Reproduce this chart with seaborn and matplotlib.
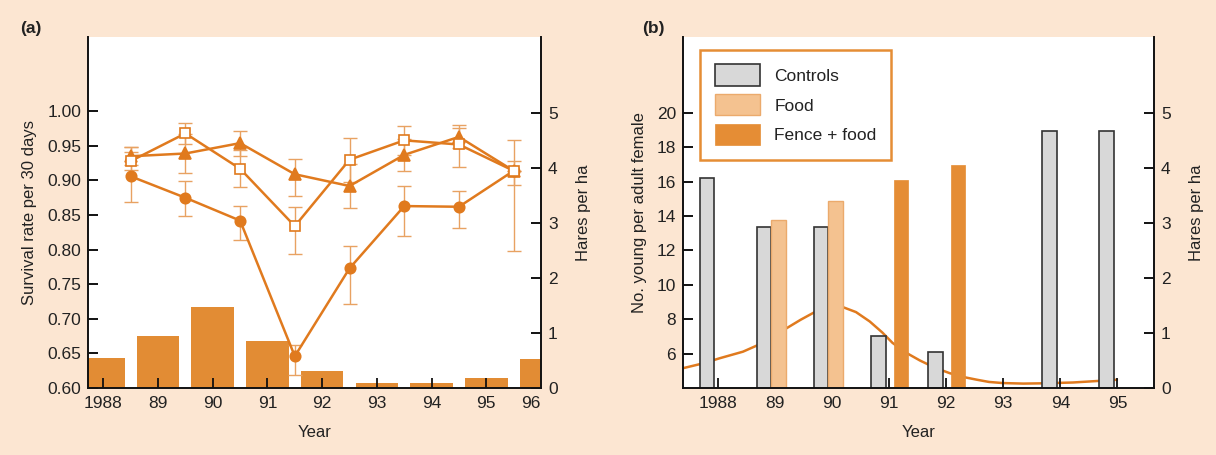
import numpy as np
import pandas as pd
import matplotlib
matplotlib.use("Agg")
import matplotlib.pyplot as plt
import seaborn as sns
from matplotlib.patches import Patch

# ---------------- data: panel (a) ----------------
years_a = [1988, 1989, 1990, 1991, 1992, 1993, 1994, 1995, 1996]
year_labels_a = ["1988", "89", "90", "91", "92", "93", "94", "95", "96"]
density_a = [0.55, 0.95, 1.47, 0.85, 0.30, 0.085, 0.085, 0.19, 0.53]   # hares per ha

# survival rates per 30 days, one value per year-to-year period (1988-89 ... 1995-96)
surv_circle = [0.906, 0.875, 0.842, 0.646, 0.773, 0.863, 0.862, 0.914]
circle_lo = [0.869, 0.848, 0.814, 0.619, 0.721, 0.820, 0.832, 0.798]
circle_hi = [0.949, 0.899, 0.863, 0.662, 0.805, 0.892, 0.885, 0.958]

surv_triangle = [0.935, 0.939, 0.954, 0.909, 0.892, 0.937, 0.963, 0.914]
tri_lo = [0.922, 0.911, 0.936, 0.877, 0.860, 0.914, 0.947, 0.914]
tri_hi = [0.948, 0.967, 0.972, 0.931, 0.924, 0.960, 0.980, 0.914]

surv_square = [0.928, 0.968, 0.917, 0.834, 0.930, 0.958, 0.952, 0.914]
sq_lo = [0.915, 0.953, 0.890, 0.794, 0.898, 0.937, 0.919, 0.894]
sq_hi = [0.941, 0.983, 0.944, 0.861, 0.962, 0.979, 0.976, 0.928]

# ---------------- data: panel (b) ----------------
years_b = [1988, 1989, 1990, 1991, 1992, 1993, 1994, 1995]
year_labels_b = ["1988", "89", "90", "91", "92", "93", "94", "95"]
controls = [16.22, 13.35, 13.35, 7.0, 6.09, np.nan, 18.91, 18.91]
food = [np.nan, 13.78, 14.84, np.nan, np.nan, np.nan, np.nan, np.nan]
fence_food = [np.nan, np.nan, np.nan, 16.09, 16.95, np.nan, np.nan, np.nan]

# hare density curve (hares per ha)
curve_year = [1987.39, 1987.75, 1988.03, 1988.44, 1988.68, 1988.95, 1989.21, 1989.45, 1989.68,
              1989.95, 1990.19, 1990.42, 1990.66, 1990.88, 1991.06, 1991.30, 1991.54, 1991.80,
              1992.06, 1992.30, 1992.54, 1992.75, 1992.99, 1993.35, 1993.69, 1994.22,
              1994.69, 1994.99]
curve_density = [0.36, 0.45, 0.54, 0.66, 0.77, 0.92, 1.09, 1.24, 1.37,
                 1.45, 1.47, 1.38, 1.21, 1.01, 0.82, 0.64, 0.50, 0.37,
                 0.27, 0.20, 0.15, 0.11, 0.09, 0.08, 0.085, 0.10,
                 0.13, 0.15]

# ---------------- style ----------------
BG = "#FCE6D2"
LINE = "#E07A1E"
ERR = "#E8A262"
BAR_A = "#E28C34"
C_CTRL = "#D8D8D8"
C_FOOD = "#F4C290"
C_FENCE = "#E58D35"
TXT = "#222222"

sns.set_theme(style="white")
plt.rcParams["font.family"] = ["Liberation Sans", "DejaVu Sans"]
plt.rcParams["axes.edgecolor"] = "#111111"
plt.rcParams["xtick.color"] = TXT
plt.rcParams["ytick.color"] = TXT

fig = plt.figure(figsize=(12.16, 4.55), dpi=100, facecolor=BG)

W, H = 1216.0, 455.0
bot = 1 - 388 / H
top = 1 - 37 / H

FS_T = 12.5
FS_L = 12


def style_axes(ax_left, ax_right):
    for sp in ["top"]:
        ax_left.spines[sp].set_visible(False)
        ax_right.spines[sp].set_visible(False)
    for sp in ["left", "bottom"]:
        ax_right.spines[sp].set_visible(False)
    ax_left.spines["right"].set_visible(False)
    for a in (ax_left, ax_right):
        for sp in a.spines.values():
            sp.set_linewidth(1.4)
            sp.set_color("#111111")
    ax_left.tick_params(axis="y", direction="in", length=7, width=1.4, color="#111111",
                        labelsize=FS_T, pad=5, left=True, right=False)
    ax_right.tick_params(axis="y", direction="in", length=7, width=1.4, color="#111111",
                         labelsize=FS_T, pad=5, right=True, left=False, labelright=True, labelleft=False)
    ax_left.tick_params(axis="x", direction="in", length=7, width=1.3, color="#111111",
                        labelsize=FS_T, pad=6, bottom=True)
    ax_right.tick_params(axis="x", bottom=False, labelbottom=False)
    # left axes on top, transparent; right axes carries white background
    ax_left.set_zorder(ax_right.get_zorder() + 1)
    ax_left.patch.set_visible(False)
    ax_right.patch.set_facecolor("white")
    ax_right.patch.set_visible(True)


# ================= panel (a) =================
axa = fig.add_axes([88 / W, bot, (541 - 88) / W, top - bot])
axa2 = axa.twinx()

xa = [y - years_a[0] for y in years_a]
sns.barplot(x=xa, y=density_a, native_scale=True, width=0.78, color=BAR_A,
            saturation=1, linewidth=0, ax=axa2)

xp = [y - years_a[0] + 0.5 for y in years_a[:-1]]
series = [
    (surv_circle, circle_lo, circle_hi, dict(marker="o", ms=7.5, mfc=LINE, mec=LINE)),
    (surv_triangle, tri_lo, tri_hi, dict(marker="^", ms=8, mfc=LINE, mec=LINE)),
    (surv_square, sq_lo, sq_hi, dict(marker="s", ms=7, mfc="white", mec=LINE)),
]
for vals, lo, hi, mk in series:
    v = np.array(vals)
    yerr = np.vstack([v - np.array(lo), np.array(hi) - v])
    axa.errorbar(xp, v, yerr=yerr, fmt="none", ecolor=ERR, elinewidth=1.0,
                 capsize=5, capthick=1.0, zorder=2)
for vals, lo, hi, mk in series:
    sns.lineplot(x=xp, y=vals, color=LINE, linewidth=1.8, mew=1.2, ax=axa, zorder=3,
                 marker=mk["marker"], markersize=mk["ms"], markerfacecolor=mk["mfc"],
                 markeredgecolor=mk["mec"])

axa.set_xlim(-0.28, 8.0)
axa.set_ylim(0.60, 1.1074)
axa2.set_ylim(0, 6.38)
axa.set_yticks([0.60, 0.65, 0.70, 0.75, 0.80, 0.85, 0.90, 0.95, 1.00])
axa.set_yticklabels([f"{t:.2f}" for t in [0.60, 0.65, 0.70, 0.75, 0.80, 0.85, 0.90, 0.95, 1.00]])
axa2.set_yticks([0, 1, 2, 3, 4, 5])
axa.set_xticks(xa)
axa.set_xticklabels(year_labels_a)
style_axes(axa, axa2)
axa.spines["right"].set_visible(False)
lbls = axa.get_xticklabels()
lbls[-1].set_horizontalalignment("right")
axa.xaxis.get_major_ticks()[-1].tick1line.set_visible(False)
axa.set_xlabel("Year", fontsize=FS_L, color=TXT, labelpad=10)
axa.set_ylabel("Survival rate per 30 days", fontsize=FS_L, color=TXT, labelpad=7)
axa2.set_ylabel("Hares per ha", fontsize=FS_L, color=TXT, labelpad=13)

# ================= panel (b) =================
axb = fig.add_axes([683 / W, bot, (1154 - 683) / W, top - bot])
axb2 = axb.twinx()

xb = np.array([y - years_b[0] for y in years_b], dtype=float)
sns.lineplot(x=[c - years_b[0] for c in curve_year], y=curve_density, color=LINE,
             linewidth=1.8, ax=axb2)

def bars(vals, offset, fc, ec, lw):
    v = np.array(vals, dtype=float)
    m = ~np.isnan(v)
    sns.barplot(x=xb[m] + offset, y=v[m], native_scale=True, width=0.255, color=fc,
                saturation=1, edgecolor=ec, linewidth=lw, ax=axb)

bars(controls, -0.19, C_CTRL, "#333333", 1.2)
bars(food, 0.065, C_FOOD, "#EBAA6C", 1.0)
bars(fence_food, 0.205, C_FENCE, C_FENCE, 0.5)

axb.set_xlim(-0.61, 7.64)
axb.set_ylim(4, 24.4)
axb2.set_ylim(0, 6.38)
axb.set_yticks([6, 8, 10, 12, 14, 16, 18, 20])
axb2.set_yticks([0, 1, 2, 3, 4, 5])
axb.set_xticks(xb)
axb.set_xticklabels(year_labels_b)
style_axes(axb, axb2)
axb.set_xlabel("Year", fontsize=FS_L, color=TXT, labelpad=10)
axb.set_ylabel("No. young per adult female", fontsize=FS_L, color=TXT, labelpad=7)
axb2.set_ylabel("Hares per ha", fontsize=FS_L, color=TXT, labelpad=13)

handles = [Patch(facecolor=C_CTRL, edgecolor="#333333", linewidth=1.2, label="Controls"),
           Patch(facecolor=C_FOOD, edgecolor="#EBAA6C", linewidth=1.0, label="Food"),
           Patch(facecolor=C_FENCE, edgecolor=C_FENCE, linewidth=0.5, label="Fence + food")]
leg = axb.legend(handles=handles, loc="upper left", bbox_to_anchor=(0.037, 0.964),
                 fontsize=FS_T, frameon=True, fancybox=False, framealpha=1,
                 handlelength=2.6, handleheight=1.5, handletextpad=0.8,
                 labelspacing=0.5, borderpad=0.85, borderaxespad=0)
leg.get_frame().set_edgecolor(C_FENCE)
leg.get_frame().set_linewidth(1.8)
for t in leg.get_texts():
    t.set_color(TXT)

fig.text(20 / W, 1 - 28 / H, "(a)", fontsize=12.5, fontweight="bold", color=TXT, va="center")
fig.text(642 / W, 1 - 28 / H, "(b)", fontsize=12.5, fontweight="bold", color=TXT, va="center")

fig.savefig("out.png", dpi=100, facecolor=BG)
